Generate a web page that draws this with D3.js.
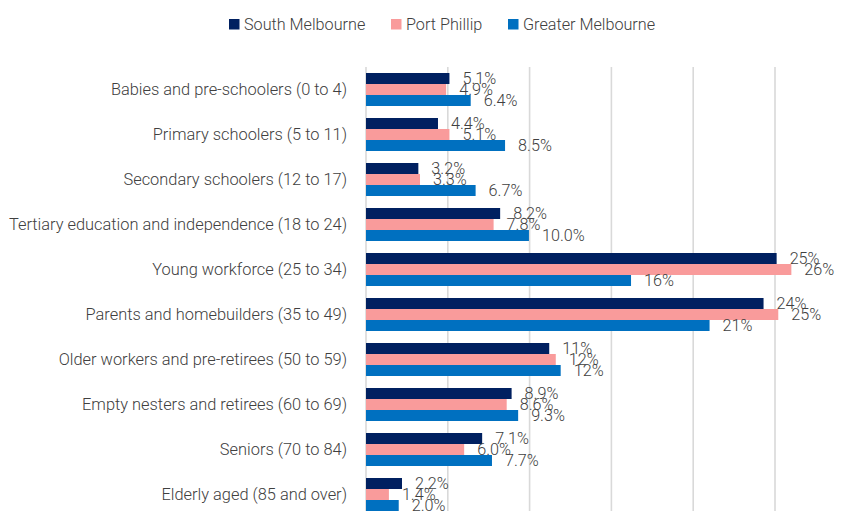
<!DOCTYPE html>
<html><head><meta charset="utf-8">
<script src="https://cdn.jsdelivr.net/npm/d3@7"></script>
<style>
html,body{margin:0;padding:0;background:#fff;}
svg{display:block;font-family:Roboto,"Noto Sans",sans-serif;}
</style></head>
<body><svg id="c" width="844" height="511"></svg>
<script>
const categories = [
  "Babies and pre-schoolers (0 to 4)",
  "Primary schoolers (5 to 11)",
  "Secondary schoolers (12 to 17)",
  "Tertiary education and independence (18 to 24)",
  "Young workforce (25 to 34)",
  "Parents and homebuilders (35 to 49)",
  "Older workers and pre-retirees (50 to 59)",
  "Empty nesters and retirees (60 to 69)",
  "Seniors (70 to 84)",
  "Elderly aged (85 and over)"
];
const seriesNames = ["South Melbourne", "Port Phillip", "Greater Melbourne"];
const southMelbourne   = [5.1, 4.4, 3.2, 8.2, 25.1, 24.3, 11.2, 8.9, 7.1, 2.2];
const portPhillip      = [4.9, 5.1, 3.3, 7.8, 26.0, 25.2, 11.6, 8.6, 6.0, 1.4];
const greaterMelbourne = [6.4, 8.5, 6.7, 9.96, 16.2, 21.0, 11.9, 9.3, 7.7, 2.0];
const xTicks = [0, 5, 10, 15, 20, 25];
const colors = ["#002060", "#F99B9B", "#0070C0"];

const seriesValues = [southMelbourne, portPhillip, greaterMelbourne];
const svg = d3.select("#c");

const x = d3.scaleLinear().domain([0, 30]).range([366, 856.8]);
const y = d3.scaleBand().domain(categories).range([67, 517]).paddingInner(0.2667).paddingOuter(0.1333);
const ys = d3.scaleBand().domain(seriesNames).range([0, y.bandwidth()]);

// gridlines
svg.append("g").selectAll("line").data(xTicks).join("line")
  .attr("x1", d => x(d)).attr("x2", d => x(d))
  .attr("y1", 67).attr("y2", 511)
  .attr("stroke", "#d9d9d9").attr("stroke-width", 1.6);

// category labels
svg.append("g").selectAll("text").data(categories).join("text")
  .attr("x", 347).attr("y", d => y(d) + y.bandwidth() / 2)
  .attr("text-anchor", "end").attr("dominant-baseline", "central")
  .attr("font-size", 16.4).attr("font-weight", 300).attr("fill", "#404040")
  .text(d => d);

const flat = [];
seriesNames.forEach((s, si) => categories.forEach((c, ci) => flat.push({s, si, c, v: seriesValues[si][ci]})));

svg.append("g").selectAll("rect").data(flat).join("rect")
  .attr("x", x(0)).attr("y", d => y(d.c) + ys(d.s))
  .attr("width", d => x(d.v) - x(0)).attr("height", ys.bandwidth())
  .attr("fill", d => colors[d.si]);

const fmt = v => v >= 10.05 ? Math.round(v) + "%" : v.toFixed(1) + "%";
svg.append("g").selectAll("text").data(flat).join("text")
  .attr("x", d => x(d.v) + 13).attr("y", d => y(d.c) + ys(d.s) + ys.bandwidth() / 2)
  .attr("dominant-baseline", "central")
  .attr("font-size", 16.2).attr("font-weight", 300).attr("fill", "#404040")
  .text(d => fmt(d.v));

// legend
const legendX = [229, 391, 508];
const lg = svg.append("g").selectAll("g").data(seriesNames).join("g")
  .attr("transform", (d, i) => `translate(${legendX[i]},19)`);
lg.append("rect").attr("width", 10.5).attr("height", 10.5).attr("fill", (d, i) => colors[i]);
lg.append("text").attr("x", 15).attr("y", 5.5).attr("dominant-baseline", "central")
  .attr("font-size", 16.2).attr("font-weight", 300).attr("fill", "#404040").text(d => d);
</script></body></html>
